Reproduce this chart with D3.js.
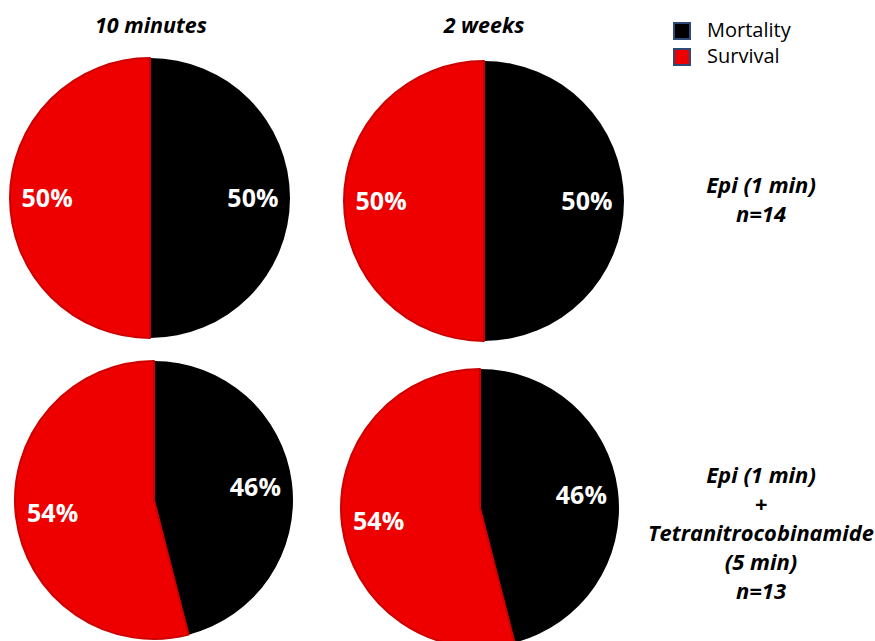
<!DOCTYPE html>
<html><head><meta charset="utf-8">
<script src="https://cdn.jsdelivr.net/npm/d3@7"></script>
<style>body{margin:0;background:#fff}svg{display:block}</style>
</head><body>
<script>
// ---- data ----
const seriesNames = ["Mortality", "Survival"];
const timepoints = ["10 minutes", "2 weeks"];
const groupLabels = [["Epi (1 min)", "n=14"], ["Epi (1 min)", "+", "Tetranitrocobinamide", "(5 min)", "n=13"]];
const mortality = [50, 50, 46, 46];   // per pie: row-major (group, timepoint)
const survival  = [50, 50, 54, 54];
const colors = ["#000000", "#ee0000"];

// ---- layout ----
const W = 875, H = 641;
const svg = d3.select("body").append("svg").attr("width", W).attr("height", H);
const centers = [[150, 198, 140], [484, 201, 140], [154, 500, 139], [480, 508, 139]];
const color = d3.scaleOrdinal().domain(seriesNames).range(colors);
const pie = d3.pie().sort(null).value(d => d.value);

centers.forEach((c, i) => {
  const data = [{name: seriesNames[0], value: mortality[i]}, {name: seriesNames[1], value: survival[i]}];
  const arcs = pie(data);
  const arc = d3.arc().innerRadius(0).outerRadius(c[2]);
  const labelArc = d3.arc().innerRadius(c[2] * 0.735).outerRadius(c[2] * 0.735);
  const g = svg.append("g").attr("transform", `translate(${c[0]},${c[1]})`);
  g.selectAll("path").data(arcs).join("path")
    .attr("d", arc)
    .attr("fill", d => color(d.data.name))
    .attr("stroke", d => d.data.name === "Survival" ? "#cc0000" : "none")
    .attr("stroke-width", 2)
    .attr("stroke-linejoin", "round");
  g.selectAll("text").data(arcs).join("text")
    .attr("transform", d => `translate(${labelArc.centroid(d)})`)
    .attr("text-anchor", "middle")
    .attr("dy", "0.36em")
    .attr("fill", "#fff")
    .attr("font-family", "Open Sans")
    .attr("font-weight", "bold")
    .attr("font-size", 25)
    .text(d => Math.round(d.data.value) + "%");
});

// column titles
const titleX = [151, 484];
svg.selectAll("text.title").data(timepoints).join("text")
  .attr("class", "title")
  .attr("x", (d, i) => titleX[i]).attr("y", 33)
  .attr("text-anchor", "middle")
  .attr("font-family", "Open Sans").attr("font-weight", "bold").attr("font-style", "italic")
  .attr("font-size", 21.5)
  .text(d => d);

// row labels
const rowY = [193, 483];
groupLabels.forEach((lines, gi) => {
  svg.append("g").selectAll("text").data(lines).join("text")
    .attr("x", 761).attr("y", (d, j) => rowY[gi] + j * 29)
    .attr("text-anchor", "middle")
    .attr("font-family", "Open Sans").attr("font-weight", "bold").attr("font-style", "italic")
    .attr("font-size", 22)
    .attr("fill", "#000")
    .text(d => d)
    .each(function() {
      const w = this.getComputedTextLength();
      if (w > 226) d3.select(this).attr("textLength", 226).attr("lengthAdjust", "spacingAndGlyphs");
    });
});

// legend
const leg = svg.append("g").attr("transform", "translate(674,23)");
const items = leg.selectAll("g").data(seriesNames).join("g")
  .attr("transform", (d, i) => `translate(0,${i * 26})`);
items.append("rect").attr("width", 16).attr("height", 16)
  .attr("fill", d => color(d)).attr("stroke", "#2e4a78").attr("stroke-width", 2);
items.append("text").attr("x", 33).attr("y", 14)
  .attr("font-family", "Open Sans").attr("font-size", 20).attr("fill", "#000")
  .text(d => d);
</script>
</body></html>
